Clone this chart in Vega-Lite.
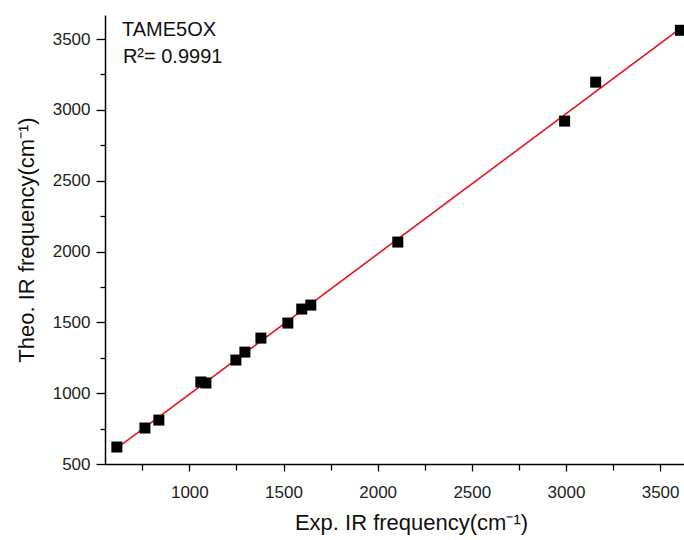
{
  "$schema": "https://vega.github.io/schema/vega-lite/v6.json",
  "width": 579,
  "height": 449,
  "autosize": {"type": "none"},
  "padding": {"left": 105, "top": 15, "right": 0, "bottom": 76},
  "background": "white",
  "config": {
    "view": {"stroke": null},
    "font": "Liberation Sans",
    "axis": {
      "grid": false,
      "domainColor": "#000000",
      "domainWidth": 1.5,
      "tickColor": "#000000",
      "tickWidth": 1.3,
      "labelFont": "Liberation Sans",
      "labelFontSize": 17,
      "labelColor": "#222222",
      "titleFont": "Liberation Sans",
      "titleFontSize": 22,
      "titleFontWeight": "normal",
      "titleColor": "#111111"
    }
  },
  "datasets": {
    "pts": [
      {"exp": 615, "theo": 620},
      {"exp": 764, "theo": 754},
      {"exp": 838, "theo": 810},
      {"exp": 1061, "theo": 1079},
      {"exp": 1088, "theo": 1072},
      {"exp": 1247, "theo": 1234},
      {"exp": 1295, "theo": 1290},
      {"exp": 1380, "theo": 1389},
      {"exp": 1523, "theo": 1495},
      {"exp": 1597, "theo": 1594},
      {"exp": 1645, "theo": 1622},
      {"exp": 2107, "theo": 2067},
      {"exp": 2993, "theo": 2921},
      {"exp": 3158, "theo": 3196},
      {"exp": 3608, "theo": 3562}
    ],
    "notes": [
      {"exp": 642, "theo": 3563, "label": "TAME5OX"},
      {"exp": 647, "theo": 3372, "label": "R²= 0.9991"}
    ]
  },
  "encoding": {
    "x": {
      "field": "exp",
      "type": "quantitative",
      "scale": {"domain": [552, 3627], "nice": false, "zero": false},
      "axis": {
        "title": "Exp. IR frequency(cm⁻¹)",
        "format": "d",
        "values": [750, 1000, 1250, 1500, 1750, 2000, 2250, 2500, 2750, 3000, 3250, 3500],
        "labelExpr": "datum.value % 500 === 0 ? datum.label : ''",
        "tickSize": {"condition": {"test": "datum.value % 500 === 0", "value": 7}, "value": 6},
        "labelPadding": 13,
        "titlePadding": 12,
        "labelFlush": false,
        "titleX": 306
      }
    },
    "y": {
      "field": "theo",
      "type": "quantitative",
      "scale": {"domain": [500, 3670], "nice": false, "zero": false},
      "axis": {
        "title": "Theo. IR frequency(cm⁻¹)",
        "format": "d",
        "values": [500, 750, 1000, 1250, 1500, 1750, 2000, 2250, 2500, 2750, 3000, 3250, 3500],
        "labelExpr": "datum.value % 500 === 0 ? datum.label : ''",
        "tickSize": {"condition": {"test": "datum.value % 500 === 0", "value": 9}, "value": 5},
        "labelPadding": 6,
        "titlePadding": 14,
        "labelFlush": false
      }
    }
  },
  "layer": [
    {
      "data": {"name": "pts"},
      "transform": [{"regression": "theo", "on": "exp", "extent": [612, 3630]}],
      "mark": {"type": "line", "color": "#e8141c", "strokeWidth": 1.6, "clip": true}
    },
    {
      "data": {"name": "pts"},
      "mark": {"type": "point", "shape": "square", "filled": true, "color": "#000000", "size": 121, "opacity": 1, "clip": true}
    },
    {
      "data": {"name": "notes"},
      "mark": {"type": "text", "align": "left", "baseline": "middle", "fontSize": 20, "color": "#111111", "font": "Liberation Sans"},
      "encoding": {"text": {"field": "label"}}
    }
  ]
}
